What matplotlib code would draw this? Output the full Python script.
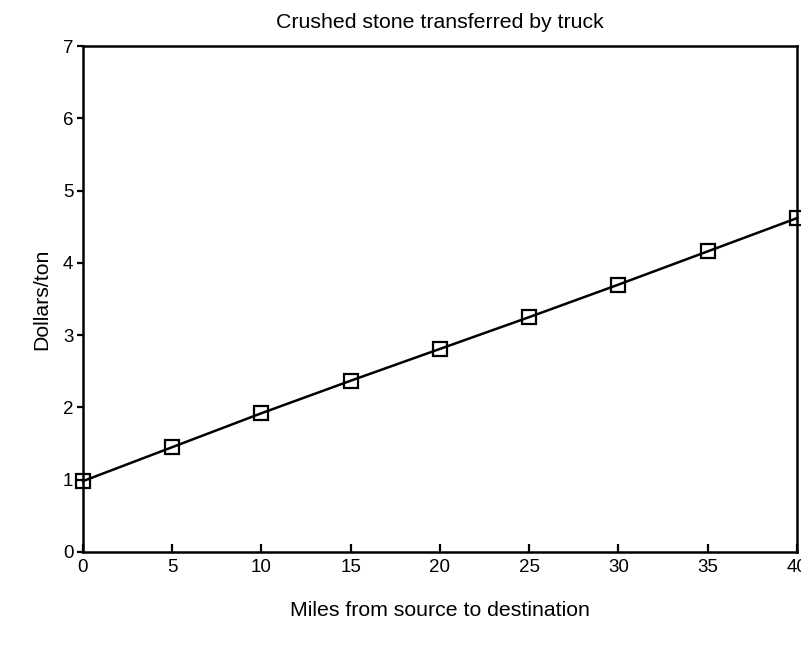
import matplotlib
matplotlib.use("Agg")
import matplotlib.pyplot as plt

# cout du transport de pierre concassee par camion
miles = [0, 5, 10, 15, 20, 25, 30, 35, 40]
dollars_ton = [0.98, 1.45, 1.92, 2.37, 2.81, 3.25, 3.70, 4.16, 4.62]

x_ticks = [0, 5, 10, 15, 20, 25, 30, 35, 40]
y_ticks = [0, 1, 2, 3, 4, 5, 6, 7]

plt.rcParams["font.family"] = ["Liberation Sans", "DejaVu Sans"]

fig = plt.figure(figsize=(8.01, 6.69), dpi=100)
ax = fig.add_axes([0.1036, 0.175, 0.8914, 0.756])

ax.plot(miles, dollars_ton, color="black", linewidth=1.8, marker="s",
        markersize=9.5, markerfacecolor="none", markeredgecolor="black",
        markeredgewidth=1.6, clip_on=False)

ax.set_xlim(0, 40)
ax.set_ylim(0, 7)
ax.set_xticks(x_ticks)
ax.set_yticks(y_ticks)
ax.tick_params(axis="x", direction="in", length=6, width=1.6, labelsize=13.5, pad=5)
ax.tick_params(axis="y", direction="out", length=4, width=1.6, labelsize=13.5, pad=3)
for s in ax.spines.values():
    s.set_linewidth(1.8)

ax.set_title("Crushed stone transferred by truck", fontsize=15.3, pad=13)
ax.set_xlabel("Miles from source to destination", fontsize=15.3, labelpad=18)
ax.set_ylabel("Dollars/ton", fontsize=15.3, labelpad=8)

fig.savefig("out.png", dpi=100, facecolor="white")
